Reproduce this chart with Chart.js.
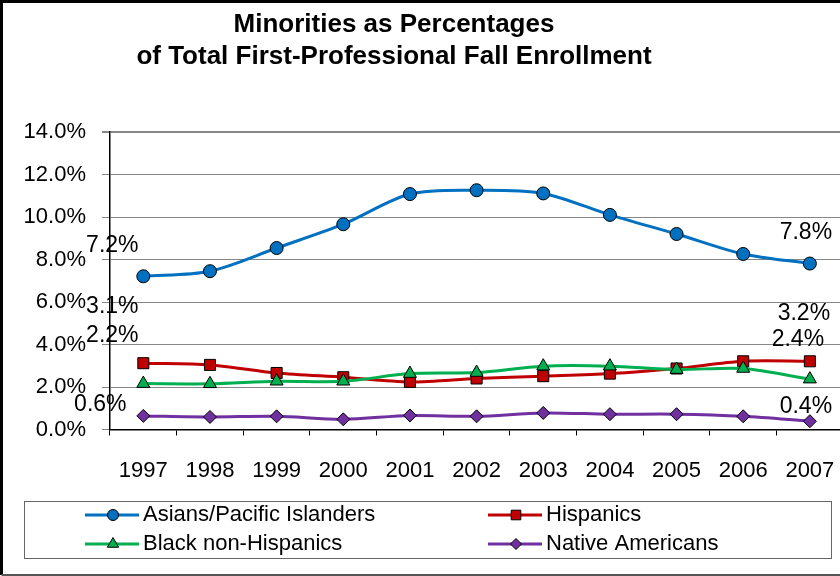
<!DOCTYPE html>
<html><head><meta charset="utf-8">
<script src="https://cdn.jsdelivr.net/npm/chart.js@4.4.1/dist/chart.umd.min.js"></script>
<style>
html,body{margin:0;padding:0;background:#fff;overflow:hidden;width:840px;height:576px}
#wrap{position:absolute;left:0;top:0;width:852px;height:576px}
</style>
</head><body><div id="wrap"><canvas id="c" width="852" height="576"></canvas></div>
<script>
// ---- data ----
const years = ['1997','1998','1999','2000','2001','2002','2003','2004','2005','2006','2007'];
const asians    = [7.21, 7.45, 8.54, 9.66, 11.08, 11.26, 11.11, 10.10, 9.20, 8.26, 7.81];
const hispanics = [3.12, 3.04, 2.66, 2.46, 2.24, 2.40, 2.51, 2.63, 2.87, 3.21, 3.21];
const blacks    = [2.16, 2.15, 2.27, 2.27, 2.63, 2.68, 2.98, 2.98, 2.82, 2.87, 2.37];
const natives   = [0.64, 0.59, 0.62, 0.48, 0.66, 0.62, 0.78, 0.72, 0.72, 0.62, 0.39];
const seriesNames = ['Asians/Pacific Islanders','Hispanics','Black non-Hispanics','Native Americans'];
const titleLines = ['Minorities as Percentages','of Total First-Professional Fall Enrollment'];
const yMin = 0, yMax = 14, yStep = 2;

// ---- styles ----
const FONT = "'Liberation Sans', Arial, sans-serif";
const colors = ['#0070C0','#C00000','#00B050','#7030A0'];
const styles = ['circle','rect','triangle','rectRot'];
const radii = [6.5, 7.8, 7.5, 6.5];
const legendRadii = [5.5, 6.8, 6.5, 5.5];
// label offsets (first point, last point) relative to the point, in px
const labelOffsets = [
  [{dx:-31,dy:-31},{dx:-4,dy:-31}],
  [{dx:-31,dy:-57},{dx:-6,dy:-48}],
  [{dx:-31,dy:-48},{dx:-12,dy:-39}],
  [{dx:-43,dy:-11},{dx:-4,dy:-15}]
];

const seriesData = [asians, hispanics, blacks, natives];
const drawOrder = [4,3,2,1];

const datasets = seriesData.map((d,i)=>({
  label: seriesNames[i],
  data: d,
  borderColor: colors[i],
  backgroundColor: colors[i],
  pointBackgroundColor: colors[i],
  pointBorderColor: '#000',
  pointBorderWidth: 1,
  pointStyle: styles[i],
  pointRadius: radii[i],
  pointHoverRadius: radii[i],
  borderWidth: 3,
  tension: 0.3,
  order: drawOrder[i],
  fill: false
}));

function drawMarker(ctx, style, x, y, r, fill) {
  ctx.save();
  ctx.fillStyle = fill; ctx.strokeStyle = '#000'; ctx.lineWidth = 1;
  ctx.beginPath();
  if (style === 'circle') { ctx.arc(x, y, r, 0, Math.PI*2); }
  else if (style === 'rect') { const s = r*Math.SQRT1_2; ctx.rect(x-s, y-s, 2*s, 2*s); }
  else if (style === 'triangle') {
    let a = 0;
    ctx.moveTo(x + Math.sin(a)*r, y - Math.cos(a)*r);
    a += 2*Math.PI/3; ctx.lineTo(x + Math.sin(a)*r, y - Math.cos(a)*r);
    a += 2*Math.PI/3; ctx.lineTo(x + Math.sin(a)*r, y - Math.cos(a)*r);
    ctx.closePath();
  } else { ctx.moveTo(x, y-r); ctx.lineTo(x+r, y); ctx.lineTo(x, y+r); ctx.lineTo(x-r, y); ctx.closePath(); }
  ctx.fill(); ctx.stroke();
  ctx.restore();
}

const framePlugin = {
  id: 'frame',
  beforeDraw(chart) {
    const ctx = chart.ctx;
    ctx.save();
    ctx.fillStyle = '#fff';
    ctx.fillRect(0, 0, chart.width, chart.height);
    ctx.restore();
  },
  afterDraw(chart) {
    const ctx = chart.ctx;
    ctx.save();
    // outer border
    ctx.strokeStyle = '#000';
    ctx.lineWidth = 3;
    ctx.beginPath();
    ctx.moveTo(chart.width + 20, 1.5); ctx.lineTo(1.5, 1.5); ctx.lineTo(1.5, 575); ctx.stroke();
    ctx.strokeStyle = '#555'; ctx.lineWidth = 2;
    ctx.beginPath(); ctx.moveTo(1.5, 575); ctx.lineTo(chart.width + 20, 575); ctx.stroke();
    // title
    ctx.fillStyle = '#000';
    ctx.font = 'bold 26px ' + FONT;
    ctx.textAlign = 'center'; ctx.textBaseline = 'middle';
    ctx.fillText(titleLines[0], 394, 25);
    ctx.fillText(titleLines[1], 394, 57);
    // legend
    ctx.strokeStyle = '#666'; ctx.lineWidth = 1;
    ctx.strokeRect(24.5, 501.5, 807, 57);
    const cols = [85, 488], rows = [515, 544];
    const place = [[0,0],[1,0],[0,1],[1,1]];
    chart.data.datasets.forEach((ds, i) => {
      const x = cols[place[i][0]], y = rows[place[i][1]];
      ctx.strokeStyle = ds.borderColor; ctx.lineWidth = 3;
      ctx.beginPath(); ctx.moveTo(x, y); ctx.lineTo(x + 54, y); ctx.stroke();
      drawMarker(ctx, ds.pointStyle, x + 28, y, legendRadii[i], ds.pointBackgroundColor);
      ctx.fillStyle = '#000';
      ctx.font = '22px ' + FONT;
      ctx.textAlign = 'left'; ctx.textBaseline = 'middle';
      ctx.fillText(ds.label, x + 58, y);
    });
    ctx.restore();
  },
  afterDatasetsDraw(chart) {
    const ctx = chart.ctx;
    ctx.save();
    ctx.fillStyle = '#000';
    ctx.font = '23px ' + FONT;
    ctx.textAlign = 'center'; ctx.textBaseline = 'middle';
    chart.data.datasets.forEach((ds, i) => {
      const meta = chart.getDatasetMeta(i);
      const n = ds.data.length;
      [0, n-1].forEach((idx, k) => {
        const p = meta.data[idx];
        const o = labelOffsets[i][k];
        ctx.fillText(ds.data[idx].toFixed(1) + '%', p.x + o.dx, p.y + o.dy);
      });
    });
    ctx.restore();
  }
};

new Chart(document.getElementById('c'), {
  type: 'line',
  data: { labels: years, datasets },
  plugins: [framePlugin],
  options: {
    responsive: false,
    devicePixelRatio: 1,
    animation: false,
    layout: { padding: { left: 0, top: 132, right: 0, bottom: 86.5 } },
    plugins: { legend: { display: false }, title: { display: false }, tooltip: { enabled: false } },
    scales: {
      x: {
        offset: true,
        grid: { offset: true, drawOnChartArea: false, drawTicks: true, tickLength: 6, color: '#000', lineWidth: 1 },
        border: { color: '#000', width: 1.5 },
        ticks: { color: '#000', padding: 0, font: { family: FONT, size: 22, lineHeight: 3.23 }, maxRotation: 0, autoSkip: false },
        afterFit(scale) { scale.height = 60; }
      },
      y: {
        min: yMin, max: yMax,
        grid: { color: '#868686', lineWidth: (c) => c.index === 7 ? 2 : 1, tickLength: 8, drawTicks: true },
        border: { color: '#000', width: 1.5 },
        ticks: { stepSize: yStep, color: '#000', padding: 16, font: { family: FONT, size: 22 }, callback: (v) => v.toFixed(1) + '%' },
        afterFit(scale) { scale.width = 110; }
      }
    }
  }
});
</script>
</body></html>
